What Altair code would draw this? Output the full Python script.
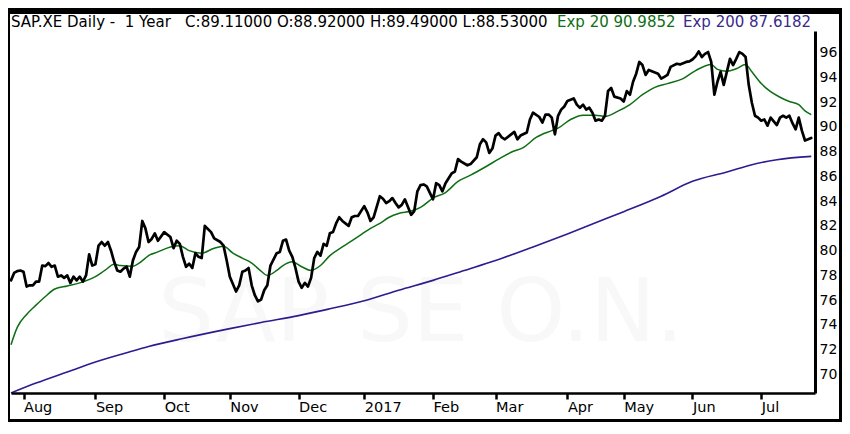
import altair as alt
import pandas as pd

FONT = "DejaVu Sans"

# trading-day index (0 = first trading day of Aug 2016) and close values
PRICE_IDX = [-4, -3, -2, -1, 0, 1, 2, 3, 4, 5, 6, 7, 8, 9, 10, 11, 12, 13, 14, 15, 16, 17, 18, 19, 20,
             21, 22, 23, 24, 25, 26, 27, 28, 29, 30, 31, 32, 33, 34, 35, 36, 37, 38, 39, 40, 41, 42, 43,
             44, 45, 47, 48, 49, 50, 51, 52, 53, 54, 55, 56, 57, 58, 60, 61, 63, 64, 65, 66, 68, 69, 70,
             71, 72, 73, 74, 75, 76, 77, 78, 79, 81, 82, 83, 84, 85, 86, 87, 88, 89, 90, 91, 92, 93, 94,
             95, 96, 97, 98, 99, 100, 101, 102, 104, 105, 106, 107, 109, 110, 111, 112, 114, 115, 116,
             117, 118, 119, 120, 121, 122, 124, 125, 126, 127, 128, 129, 131, 132, 133, 134, 135, 137,
             138, 139, 140, 142, 143, 145, 146, 147, 148, 149, 150, 151, 152, 153, 154, 156, 157, 158,
             159, 161, 162, 163, 165, 166, 167, 168, 169, 170, 171, 172, 173, 174, 176, 177, 178, 179,
             180, 181, 182, 183, 184, 185, 186, 187, 188, 189, 191, 192, 193, 194, 195, 196, 197, 198,
             199, 200, 201, 203, 204, 205, 206, 207, 209, 210, 212, 213, 214, 215, 216, 217, 218, 219,
             220, 221, 222, 223, 224, 225, 226, 227, 228, 229, 230, 231, 232, 233, 234, 235, 236, 237,
             238, 239, 241, 242, 243, 244, 245, 246, 247, 248, 249, 250, 251, 252]
PRICE_VAL = [77.6, 78.2, 78.35, 78.4, 78.3, 77.1, 77.2, 77.2, 77.5, 77.5, 78.8, 78.75, 79.0, 78.7, 78.8,
             77.9, 78.0, 77.8, 78.0, 77.4, 77.9, 77.6, 77.9, 77.5, 78.0, 79.7, 78.8, 78.9, 80.4, 80.7,
             80.4, 80.7, 80.0, 79.1, 78.4, 78.3, 78.55, 78.7, 77.9, 79.2, 79.9, 80.3, 82.4, 81.8, 80.7,
             80.95, 81.4, 80.8, 81.15, 81.5, 81.1, 80.2, 80.8, 80.55, 79.5, 78.7, 78.95, 78.6, 79.8,
             79.5, 79.4, 82.0, 81.5, 81.0, 80.7, 80.4, 79.2, 77.9, 76.7, 77.2, 78.3, 78.4, 78.6, 77.2,
             76.4, 75.9, 76.05, 76.8, 77.2, 78.8, 79.8, 79.9, 80.8, 80.9, 80.0, 79.5, 78.6, 77.5, 77.0,
             77.4, 77.1, 77.8, 79.4, 79.9, 79.6, 80.55, 80.4, 81.4, 81.5, 82.2, 82.7, 82.4, 82.0, 82.7,
             82.8, 82.8, 83.6, 83.1, 82.4, 82.7, 84.4, 84.2, 83.85, 84.0, 84.25, 83.85, 83.5, 83.7,
             84.15, 82.9, 83.2, 84.8, 85.3, 85.35, 85.2, 84.15, 85.45, 85.3, 84.8, 85.45, 86.25, 86.4,
             87.4, 87.2, 86.9, 87.0, 87.55, 88.6, 89.0, 88.75, 87.9, 88.25, 89.3, 89.5, 89.15, 89.0,
             89.4, 89.6, 89.0, 89.3, 89.55, 90.6, 91.15, 90.8, 90.35, 91.0, 91.0, 90.75, 89.4, 90.9,
             91.4, 91.65, 92.1, 92.3, 91.8, 91.55, 91.8, 91.4, 91.55, 91.15, 90.5, 90.6, 90.5, 90.9,
             92.9, 93.15, 92.45, 92.3, 92.05, 92.9, 92.6, 93.65, 94.3, 95.25, 95.0, 94.2, 94.6, 94.5,
             94.3, 93.9, 94.05, 94.2, 94.85, 95.1, 95.05, 95.25, 95.3, 95.45, 95.7, 96.1, 95.65, 95.9,
             96.05, 95.25, 92.6, 93.65, 94.45, 93.4, 94.45, 95.5, 95.0, 95.5, 96.05, 95.9, 95.65, 93.4,
             91.95, 90.9, 90.75, 90.5, 90.6, 90.1, 90.75, 90.15, 90.75, 90.9, 90.75, 90.9, 90.3, 89.8,
             90.75, 89.7, 88.9, 89.0, 89.11]

EMA20_IDX = [-4, -2, 1, 4, 7, 10, 14, 18, 23, 26, 29, 31, 35, 37, 39, 40, 43, 47, 50, 53, 57, 61, 64,
             67, 70, 73, 76, 78, 81, 83, 86, 89, 92, 95, 98, 102, 105, 108, 111, 114, 117, 120, 124,
             127, 131, 135, 139, 143, 148, 152, 156, 160, 164, 169, 171, 175, 179, 183, 186, 190, 194,
             198, 202, 206, 211, 215, 220, 222, 225, 228, 231, 233, 236, 239, 242, 245, 248, 250, 252]
EMA20_VAL = [72.4, 73.8, 74.85, 75.6, 76.3, 76.9, 77.15, 77.4, 77.9, 78.4, 78.9, 78.8, 78.75, 79.0,
             79.4, 79.6, 79.9, 80.3, 80.4, 80.0, 79.8, 80.2, 80.35, 79.8, 79.4, 79.0, 78.35, 78.0, 78.4,
             78.8, 79.1, 78.7, 78.4, 78.8, 79.6, 80.3, 80.8, 81.3, 81.8, 82.2, 82.7, 83.0, 83.2, 83.5,
             84.25, 84.7, 85.6, 86.1, 86.8, 87.4, 87.95, 88.35, 89.15, 89.7, 89.9, 90.6, 90.95, 90.95,
             90.85, 91.25, 91.8, 92.6, 93.2, 93.5, 93.9, 94.55, 95.05, 94.65, 94.5, 94.7, 95.05, 94.45,
             93.5, 92.85, 92.4, 92.05, 91.8, 91.3, 90.99]

EMA200_IDX = [-4, 4, 14, 23, 33, 40, 51, 66, 76, 88, 98, 109, 120, 131, 141, 151, 163, 174, 183, 192,
              204, 214, 225, 233, 241, 252]
EMA200_VAL = [68.5, 69.3, 70.2, 71.0, 71.75, 72.25, 72.9, 73.7, 74.2, 74.75, 75.3, 75.95, 76.8, 77.6,
              78.4, 79.2, 80.3, 81.35, 82.25, 83.15, 84.4, 85.6, 86.35, 86.95, 87.35, 87.62]

MONTH_IDX = [0, 23, 45, 66, 88, 109, 131, 151, 174, 192, 214, 236]
MONTH_LABELS = ["Aug", "Sep", "Oct", "Nov", "Dec", "2017", "Feb", "Mar", "Apr", "May", "Jun", "Jul"]
Y_TICKS = [70, 72, 74, 76, 78, 80, 82, 84, 86, 88, 90, 92, 94, 96]

NB = "\u00a0"
TITLE_MAIN = f"SAP.XE Daily -{NB}{NB}1 Year{NB}{NB}{NB}C:89.11000 O:88.92000 H:89.49000 L:88.53000"
TITLE_EMA20 = "Exp 20 90.9852"
TITLE_EMA200 = "Exp 200 87.6182"
WATERMARK = "SAP SE O.N."

price_df = pd.DataFrame({"i": PRICE_IDX, "v": PRICE_VAL})
ema20_df = pd.DataFrame({"i": EMA20_IDX, "v": EMA20_VAL})
ema200_df = pd.DataFrame({"i": EMA200_IDX, "v": EMA200_VAL})
dummy = pd.DataFrame({"a": [0]})

W, H = 804, 362
X_DOMAIN = [-4, 253.2]
Y_DOMAIN = [68.5, 97.75]

label_expr = ("[" + ",".join(f"'{m}'" for m in MONTH_LABELS) + "][indexof(["
              + ",".join(str(i) for i in MONTH_IDX) + "], datum.value)]")

x_enc = alt.X("i:Q", scale=alt.Scale(domain=X_DOMAIN, nice=False, zero=False),
              axis=alt.Axis(orient="bottom", values=MONTH_IDX, labelExpr=label_expr, title=None,
                            grid=False, domainColor="black", domainWidth=2.5, tickColor="black",
                            tickWidth=2.5, tickSize=6, labelFont=FONT, labelFontSize=14.5,
                            labelColor="black", labelAlign="left", labelBaseline="top",
                            labelPadding=1, labelFlush=False, labelOverlap=False, zindex=1))
y_enc = alt.Y("v:Q", scale=alt.Scale(domain=Y_DOMAIN, nice=False, zero=False),
              axis=alt.Axis(orient="right", values=Y_TICKS, title=None, grid=False,
                            domainColor="black", domainWidth=3, ticks=False, labelFont=FONT,
                            labelFontSize=14, labelColor="black", labelPadding=4, format="d",
                            labelFlush=False, labelOverlap=False, zindex=1))

bg = alt.Chart(dummy).mark_rect(color="white").encode(
    x=alt.value(-1), x2=alt.value(W + 24), y=alt.value(-17), y2=alt.value(H + 26))

wm = alt.Chart(dummy).mark_text(text=WATERMARK, font=FONT, fontSize=88, color="#f8f8f8",
                                align="center", baseline="alphabetic").encode(
    x=alt.value(W / 2 + 8), y=alt.value(310))

ema200 = alt.Chart(ema200_df).mark_line(color="#2b1d8f", strokeWidth=1.6,
                                        interpolate="monotone").encode(x=x_enc, y=y_enc)
ema20 = alt.Chart(ema20_df).mark_line(color="#0e6e14", strokeWidth=1.5,
                                      interpolate="monotone").encode(x=x_enc, y=y_enc)
price = alt.Chart(price_df).mark_line(color="black", strokeWidth=2.7, strokeJoin="round",
                                      strokeCap="round").encode(x=x_enc, y=y_enc)

t1 = alt.Chart(dummy).mark_text(text=TITLE_MAIN, font=FONT, fontSize=15, color="black",
                                align="left", baseline="alphabetic").encode(
    x=alt.value(0), y=alt.value(-4))
t2 = alt.Chart(dummy).mark_text(text=TITLE_EMA20, font=FONT, fontSize=15, color="#0e6e14",
                                align="left", baseline="alphabetic").encode(
    x=alt.value(546), y=alt.value(-4))
t3 = alt.Chart(dummy).mark_text(text=TITLE_EMA200, font=FONT, fontSize=15, color="#3a2a8c",
                                align="left", baseline="alphabetic").encode(
    x=alt.value(672), y=alt.value(-4))

chart = alt.layer(bg, wm, ema200, ema20, price, t1, t2, t3).properties(
    width=W, height=H, background="black",
    padding={"left": 3, "top": 23, "right": 27, "bottom": 29},
    autosize=alt.AutoSizeParams(type="none"),
).configure_view(stroke="transparent")

chart.save("out.html", embed_options={"renderer": "svg", "actions": False})
